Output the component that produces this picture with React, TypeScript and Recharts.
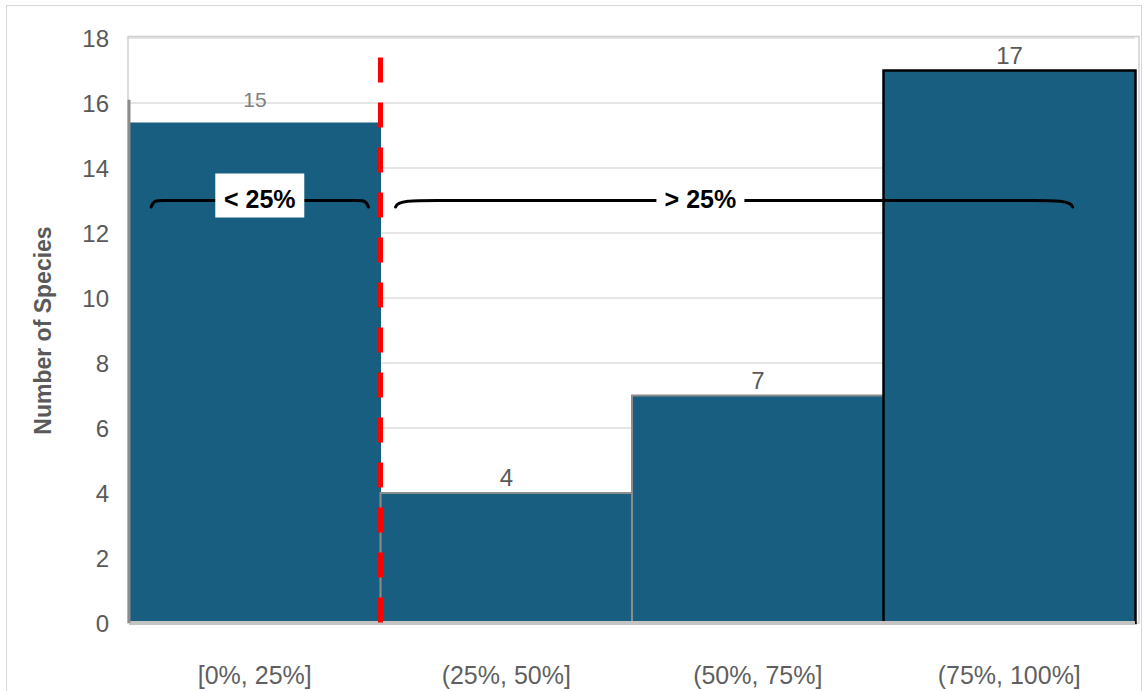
import React from 'react';
import {
  BarChart,
  Bar,
  XAxis,
  YAxis,
  CartesianGrid,
  ReferenceArea,
  LabelList,
  Cell,
  Label,
} from 'recharts';

// ---- data ----
const categories = ['[0%, 25%]', '(25%, 50%]', '(50%, 75%]', '(75%, 100%]'];
const barHeights = [15.4, 4, 7, 17]; // heights as drawn in the picture
const countLabels = ['15', '4', '7', '17']; // printed data labels
const yTicks = [0, 2, 4, 6, 8, 10, 12, 14, 16, 18];

// annotations (x in percent of the 0–100% range, y in species count)
const cutoffPct = 25;
const cutoffTop = 17.4;
const leftEdgeTop = 16.1;
const braceFrom = [2.2, 26.5];
const braceTo = [23.8, 93.8];
const braceText = ['< 25%', '> 25%'];
const braceTextAt = [13, 56.8];
const braceLineY = 13.0;
const braceEndY = 12.8;

const data = categories.map((c, i) => ({ category: c, count: barHeights[i] }));
const firstCat = categories[0];
const lastCat = categories[categories.length - 1];

const FONT = '"Liberation Sans", Arial, sans-serif';
const AXIS_GRAY = '#595959';
const BAR_FILL = '#175E80';

const pctToPx = (x: number, w: number, pct: number) => x + (w * pct) / 100;

const renderCountLabel = (props: any) => {
  const { x, y, width, value, index } = props;
  const i = typeof index === 'number' ? index : barHeights.indexOf(value);
  const first = i === 0;
  return (
    <text
      x={Number(x) + Number(width) / 2}
      y={Number(y) - (first ? 16 : 7)}
      textAnchor="middle"
      fill={first ? '#808080' : AXIS_GRAY}
      fontSize={first ? 21 : 24}
      fontFamily={FONT}
    >
      {countLabels[i]}
    </text>
  );
};

const makeBraceShape = (k: number) => (props: any) => {
  const { x, y, width, height } = props;
  const px = Number(x);
  const pw = Number(width);
  const ly = Number(y);
  const ey = ly + Number(height);
  const x0 = pctToPx(px, pw, braceFrom[k]);
  const x1 = pctToPx(px, pw, braceTo[k]);
  const curl = k === 0 ? 12 : 42;
  const path = `M ${x0} ${ey} C ${x0 + 2} ${ly} ${x0 + curl * 0.4} ${ly} ${x0 + curl} ${ly} L ${x1 - curl} ${ly} C ${x1 - curl * 0.4} ${ly} ${x1 - 2} ${ly} ${x1} ${ey}`;
  const tx = pctToPx(px, pw, braceTextAt[k]);
  return (
    <g>
      <path d={path} fill="none" stroke="#000" strokeWidth={3} strokeLinecap="round" />
      {k === 0 ? (
        <rect x={tx - 44.5} y={ly - 27} width={89} height={44} fill="#fff" />
      ) : (
        <rect x={tx - 44} y={ly - 15} width={88} height={30} fill="#fff" />
      )}
      <text
        x={tx}
        y={ly - 2}
        textAnchor="middle"
        dominantBaseline="central"
        fontFamily={FONT}
        fontWeight="bold"
        fontSize={25}
        fill="#000"
      >
        {braceText[k]}
      </text>
    </g>
  );
};

const cutoffShape = (props: any) => {
  const { x, y, width, height } = props;
  const cx = pctToPx(Number(x), Number(width), cutoffPct);
  return (
    <line
      x1={cx}
      y1={Number(y)}
      x2={cx}
      y2={Number(y) + Number(height)}
      stroke="#ff0000"
      strokeWidth={5}
      strokeDasharray="25 20"
    />
  );
};

const leftEdgeShape = (props: any) => {
  const { x, y, height } = props;
  return (
    <line
      x1={Number(x)}
      y1={Number(y)}
      x2={Number(x)}
      y2={Number(y) + Number(height)}
      stroke="#8c8c8c"
      strokeWidth={3}
    />
  );
};

const plotBorderShape = (props: any) => {
  const { x, y, width, height } = props;
  return (
    <rect
      x={Number(x) - 1}
      y={Number(y) - 1.5}
      width={Number(width) + 5}
      height={Number(height) + 1.5}
      fill="none"
      stroke="#cfcfcf"
      strokeWidth={1.5}
    />
  );
};

export default function App() {
  return (
    <div
      style={{
        position: 'absolute',
        left: 0,
        top: 0,
        width: 1145,
        height: 691,
        background: '#fff',
        overflow: 'hidden',
      }}
    >
      <div
        style={{
          position: 'absolute',
          left: 6,
          top: 5,
          width: 1134,
          height: 720,
          border: '1px solid #d6d6d6',
        }}
      />
      <div style={{ position: 'absolute', left: 0, top: 0 }}>
        <BarChart
          width={1145}
          height={691}
          data={data}
          margin={{ top: 38, right: 10, bottom: 0, left: 0 }}
          barCategoryGap={0}
          barGap={0}
        >
          <CartesianGrid vertical={false} stroke="#dcdcdc" strokeWidth={1.5} />
          <XAxis
            dataKey="category"
            interval={0}
            height={68}
            axisLine={{ stroke: '#c4c4c4', strokeWidth: 4 }}
            tickLine={false}
            tickSize={0}
            tickMargin={43}
            tick={{ fill: '#5f5f5f', fontSize: 25, fontFamily: FONT }}
          />
          <YAxis
            domain={[0, 18]}
            ticks={yTicks}
            interval={0}
            width={129}
            axisLine={false}
            tickLine={false}
            tickSize={0}
            tickMargin={20}
            tick={{ fill: AXIS_GRAY, fontSize: 24, fontFamily: FONT }}
          >
            <Label
              value="Number of Species"
              angle={-90}
              position="center"
              dx={-22}
              style={{ fill: AXIS_GRAY, fontSize: 23, fontWeight: 'bold', fontFamily: FONT }}
            />
          </YAxis>
          <ReferenceArea
            x1={firstCat}
            x2={lastCat}
            y1={0}
            y2={18}
            shape={plotBorderShape}
            ifOverflow="visible"
          />
          <Bar dataKey="count" fill={BAR_FILL} isAnimationActive={false}>
            {data.map((d, i) => (
              <Cell
                key={d.category}
                stroke={i === 0 ? 'none' : i === data.length - 1 ? '#000' : '#8c8c8c'}
                strokeWidth={i === data.length - 1 ? 2.5 : 2}
              />
            ))}
            <LabelList dataKey="count" content={renderCountLabel} />
          </Bar>
          <ReferenceArea
            x1={firstCat}
            x2={firstCat}
            y1={0}
            y2={leftEdgeTop}
            shape={leftEdgeShape}
            ifOverflow="visible"
            zIndex={2400}
          />
          <ReferenceArea
            x1={firstCat}
            x2={lastCat}
            y1={0}
            y2={cutoffTop}
            shape={cutoffShape}
            ifOverflow="visible"
            zIndex={2400}
          />
          {braceText.map((t, k) => (
            <ReferenceArea
              key={t}
              x1={firstCat}
              x2={lastCat}
              y1={braceEndY}
              y2={braceLineY}
              shape={makeBraceShape(k)}
              ifOverflow="visible"
              zIndex={2500}
            />
          ))}
        </BarChart>
      </div>
    </div>
  );
}
